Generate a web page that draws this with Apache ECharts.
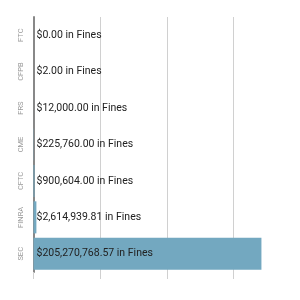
<!DOCTYPE html>
<html><head><meta charset="utf-8">
<script src="https://cdn.jsdelivr.net/npm/echarts@6/dist/echarts.min.js"></script>
<style>html,body{margin:0;padding:0;background:#fff}#c{width:300px;height:300px}</style>
</head><body><div id="c"></div>
<script>
var categories = ['FTC', 'CFPB', 'FRS', 'CME', 'CFTC', 'FINRA', 'SEC'];
var fines = [0, 2, 12000, 225760, 900604, 2614939.81, 205270768.57];
var xMax = 240000000;
var xInterval = 60000000;

function fmt(v) {
  var parts = v.toFixed(2).split('.');
  parts[0] = parts[0].replace(/\B(?=(\d{3})+(?!\d))/g, ',');
  return '$' + parts.join('.') + ' in Fines';
}

var chart = echarts.init(document.getElementById('c'), null, {renderer: 'canvas'});
chart.setOption({
  animation: false,
  grid: {left: 33.5, right: 0, top: 17, bottom: 28, containLabel: false},
  xAxis: {
    type: 'value', min: 0, max: xMax, interval: xInterval,
    axisLabel: {show: false},
    axisLine: {show: false},
    axisTick: {show: true, length: 7, lineStyle: {color: '#d0d0d0'}},
    splitLine: {show: true, lineStyle: {color: '#d0d0d0', width: 1}}
  },
  yAxis: {
    type: 'category', data: categories, inverse: true,
    axisLine: {show: true, lineStyle: {color: '#888', width: 2}},
    axisTick: {show: false},
    axisLabel: {rotate: 90, margin: 8, color: '#999', fontSize: 7.5, fontFamily: 'Roboto'}
  },
  series: [{
    type: 'bar', data: fines, barCategoryGap: '12%',
    itemStyle: {color: '#73a8c0'},
    label: {
      show: true, position: 'insideLeft', distance: 3,
      color: '#222', fontSize: 10.5, fontFamily: 'Roboto',
      formatter: function (p) { return fmt(p.value); }
    }
  }]
});
</script></body></html>
